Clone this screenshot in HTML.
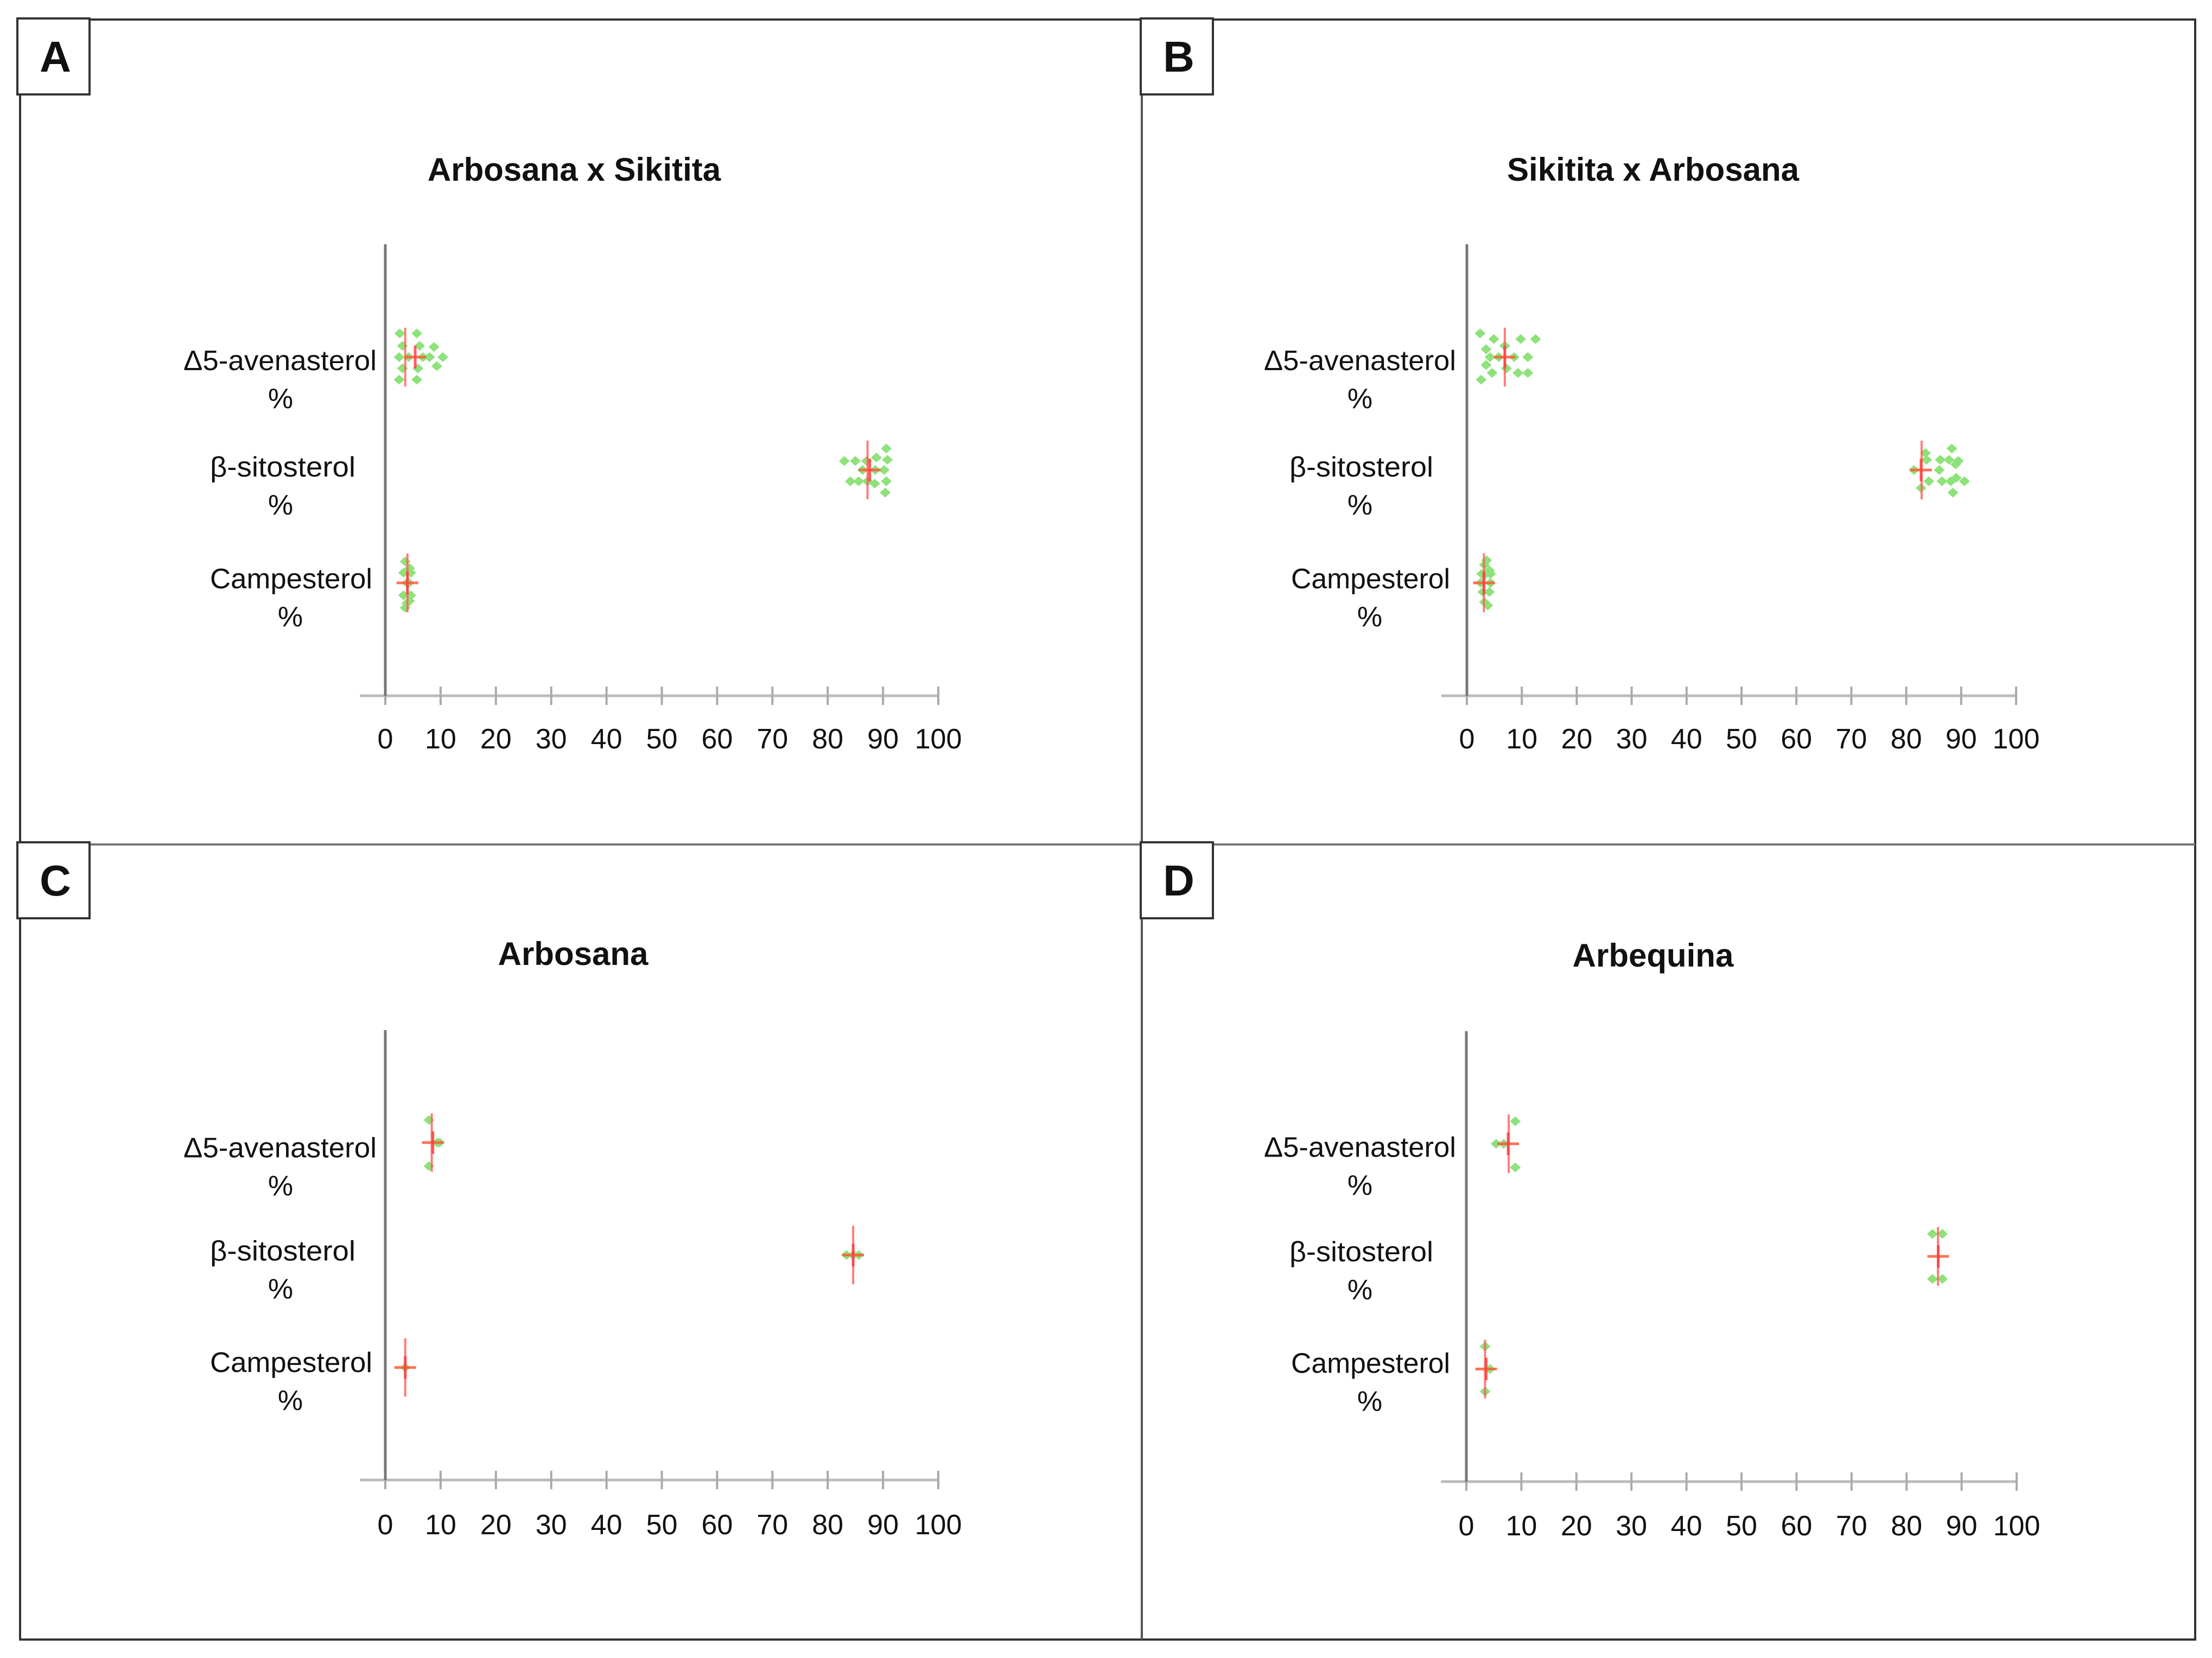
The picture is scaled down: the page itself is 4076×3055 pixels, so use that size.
<!DOCTYPE html>
<html><head><meta charset="utf-8"><style>
html,body{margin:0;padding:0;background:#fff;}
svg{display:block;}
text{font-family:"Liberation Sans",sans-serif;fill:#111;}
</style></head><body>
<svg id="fig" width="4076" height="3055" viewBox="0 0 4076 3055" xmlns="http://www.w3.org/2000/svg">
<rect x="0" y="0" width="4076" height="3055" fill="#fff"/>
<g>
<rect x="37" y="36" width="4008" height="2985" fill="none" stroke="#333" stroke-width="4"/>
<line x1="2104" y1="36" x2="2104" y2="3021" stroke="#555" stroke-width="4"/>
<line x1="37" y1="1556" x2="4045" y2="1556" stroke="#777" stroke-width="4"/>
</g>
<g id="charts"></g>
</svg>
<script>
const NS='http://www.w3.org/2000/svg';
const categories=['Campesterol','β-sitosterol','Δ5-avenasterol'];
const xTicks=[0,10,20,30,40,50,60,70,80,90,100];
const panelLetters=['A','B','C','D'];
const panelTitles=['Arbosana x Sikitita','Sikitita x Arbosana','Arbosana','Arbequina'];
// values per panel, per category [Campesterol, beta, delta5]
const valuesA_camp=[3.6,4.4,3.3,4.6,3.9,4.3,3.3,4.6,4.4,3.9,3.6];
const jitterA_camp=[0.19,0.13,0.09,0.09,0,0,-0.11,-0.11,-0.16,-0.18,-0.22];
const valuesA_beta=[90.6,88.8,90.8,83.0,85.0,87.0,86.3,88.6,90.2,84.1,85.6,87.2,88.5,90.6,90.4];
const jitterA_beta=[0.19,0.11,0.09,0.08,0.08,0.08,0,0,0,-0.1,-0.1,-0.1,-0.12,-0.1,-0.2];
const valuesA_d5=[2.6,5.7,3.1,6.2,8.8,2.5,4.2,6.8,8.0,10.4,3.1,5.9,9.3,2.5,5.7];
const jitterA_d5=[0.21,0.21,0.1,0.1,0.09,0,0,0,0,0,-0.1,-0.1,-0.08,-0.2,-0.2];
const valuesB_camp=[3.6,3.2,4.1,2.7,4.3,2.5,4.3,3.4,2.9,4.1,3.2,3.8];
const jitterB_camp=[0.2,0.16,0.11,0.08,0.08,0,0,0.08,-0.08,-0.08,-0.17,-0.2];
const valuesB_beta=[81.4,82.7,83.5,83.7,84.1,86.0,86.2,86.5,87.8,88.3,89.5,89.0,88.1,89.1,90.6,88.5];
const jitterB_beta=[0,-0.16,0.15,0.09,-0.1,0,0.09,-0.1,0.09,0.19,0.08,0.05,-0.1,-0.07,-0.1,-0.2];
const valuesB_d5=[2.4,4.9,9.8,12.5,3.5,6.9,4.2,5.8,8.6,11.1,3.5,7.2,4.6,9.3,11.1,2.6];
const jitterB_d5=[0.21,0.16,0.16,0.16,0.07,0.1,0,0,0,0,-0.07,-0.1,-0.14,-0.14,-0.14,-0.2];
const valuesC_camp=[3.6];
const jitterC_camp=[0];
const valuesC_beta=[83.4,84.6,85.6];
const jitterC_beta=[0,0,0];
const valuesC_d5=[7.9,9.4,9.8,7.9];
const jitterC_d5=[0.2,0,0,-0.21];
const valuesD_camp=[3.4,4.3,3.4];
const jitterD_camp=[0.2,0,-0.2];
const valuesD_beta=[84.7,86.5,84.7,86.5];
const jitterD_beta=[0.2,0.2,-0.2,-0.2];
const valuesD_d5=[8.9,5.4,6.8,8.9];
const jitterD_d5=[0.2,0,0,-0.21];
// summary markers: median (long red bar) and mean (short red bar + horizontal)
const mediansA=[4.0,87.2,3.6]; const meansA=[4.0,87.6,5.4];
const mediansB=[3.1,82.8,6.9]; const meansB=[3.1,82.7,6.9];
const mediansC=[3.6,84.6,8.4]; const meansC=[3.6,84.6,8.6];
const mediansD=[3.4,85.7,7.7]; const meansD=[3.6,85.75,7.6];

const panels=[
 {x0:710,x100:1729,yTop:450,yBot:1282,box:[32,34],titleX:1058,titleY:312,tickY:1360,
  lab:[[387,686,537,535],[387,655,521,517],[338,694,517,517]],labOff:[-8,-6,6],
  vals:[valuesA_camp,valuesA_beta,valuesA_d5],jit:[jitterA_camp,jitterA_beta,jitterA_d5],med:mediansA,mean:meansA},
 {x0:2703,x100:3715,yTop:450,yBot:1282,box:[2102,34],titleX:3046,titleY:312,tickY:1360,
  lab:[[2379,2672,2526,2524],[2376,2641,2509,2506],[2329,2683,2506,2506]],labOff:[-8,-6,6],
  vals:[valuesB_camp,valuesB_beta,valuesB_d5],jit:[jitterB_camp,jitterB_beta,jitterB_d5],med:mediansB,mean:meansB},
 {x0:710,x100:1729,yTop:1898,yBot:2727,box:[32,1552],titleX:1056,titleY:1757,tickY:2808,
  lab:[[387,686,537,535],[387,655,521,517],[338,694,517,517]],labOff:[-10,-8,9],
  vals:[valuesC_camp,valuesC_beta,valuesC_d5],jit:[jitterC_camp,jitterC_beta,jitterC_d5],med:mediansC,mean:meansC},
 {x0:2702,x100:3716,yTop:1900,yBot:2730,box:[2102,1552],titleX:3046,titleY:1760,tickY:2810,
  lab:[[2379,2672,2526,2524],[2376,2641,2509,2506],[2329,2683,2506,2506]],labOff:[-11,-9,6],
  vals:[valuesD_camp,valuesD_beta,valuesD_d5],jit:[jitterD_camp,jitterD_beta,jitterD_d5],med:mediansD,mean:meansD}
];
const catKeys=['campesterol','beta-sitosterol','delta5-avenasterol'];
function mk(tag,attrs,parent){const e=document.createElementNS(NS,tag);for(const k in attrs)e.setAttribute(k,attrs[k]);parent.appendChild(e);return e;}
const root=document.getElementById('charts');
panels.forEach((p,pi)=>{
 const letter=panelLetters[pi].toLowerCase();
 const g=mk('g',{},root);
 
 
 const xs=v=>p.x0+(p.x100-p.x0)*v/100;
 const unit=(p.yBot-p.yTop)/4;
 const ys=c=>p.yBot-unit*c;
 // label box
 const bx=mk('rect',{x:p.box[0],y:p.box[1],width:133,height:140,fill:'#fff',stroke:'#333','stroke-width':4},g);
 
 
 const bt=mk('text',{x:p.box[0]+70,y:p.box[1]+98,'text-anchor':'middle','font-size':80,'font-weight':'bold'},g);
 bt.textContent=panelLetters[pi];
 
 
 // title
 const t=mk('text',{x:p.titleX,y:p.titleY+21,'text-anchor':'middle','font-size':60,'font-weight':'bold'},g);
 t.textContent=panelTitles[pi];
 
 
 // axes
 const xa=mk('line',{x1:p.x0-47,y1:p.yBot,x2:p.x100,y2:p.yBot,stroke:'#bbb','stroke-width':5},g);
 
 
 xTicks.forEach(v=>{
  const tk=mk('line',{x1:xs(v),y1:p.yBot-17,x2:xs(v),y2:p.yBot+17,stroke:'#aaa','stroke-width':4},g);
  
  
  const tl=mk('text',{x:xs(v),y:p.tickY+19,'text-anchor':'middle','font-size':52},g);
  tl.textContent=String(v);
  
  
 });
 const ya=mk('line',{x1:p.x0,y1:p.yTop,x2:p.x0,y2:p.yBot,stroke:'#777','stroke-width':5},g);
 
 
 // category labels
 categories.forEach((c,ci)=>{
  const L=p.lab[ci]; const cy=ys(ci+1)+p.labOff[ci];
  const l1=mk('text',{x:L[0],y:cy+18,'font-size':52,textLength:L[1]-L[0],lengthAdjust:'spacingAndGlyphs'},g);
  l1.textContent=c;
  
  
  const l2=mk('text',{x:L[3],y:cy+88,'text-anchor':'middle','font-size':52},g);
  l2.textContent='%';
  
  
 });
 // points
 categories.forEach((c,ci)=>{
  const sg=mk('g',{},g);
  
  
  const vals=p.vals[ci], jit=p.jit[ci];
  vals.forEach((v,i)=>{
   const px=xs(v), py=ys(ci+1+jit[i]);
   const d=mk('path',{d:`M${px-10},${py} L${px},${py-9} L${px+10},${py} L${px},${py+9} Z`,fill:'#8de27a'},sg);
   
   
  });
  const cy=ys(ci+1);
  const mx=xs(p.med[ci]), ax=xs(p.mean[ci]);
  const m1=mk('line',{x1:mx,y1:cy-unit*0.26,x2:mx,y2:cy+unit*0.26,stroke:'#ff5b5b','stroke-width':4,'stroke-opacity':0.8},sg);
  
  
  const m2=mk('line',{x1:ax-20,y1:cy,x2:ax+20,y2:cy,stroke:'#ff5b3b','stroke-width':5,'stroke-opacity':0.85},sg);
  
  
  const m3=mk('line',{x1:ax,y1:cy-unit*0.1,x2:ax,y2:cy+unit*0.1,stroke:'#ff4040','stroke-width':5,'stroke-opacity':0.85},sg);
  
  
 });
});
</script>
</body></html>
